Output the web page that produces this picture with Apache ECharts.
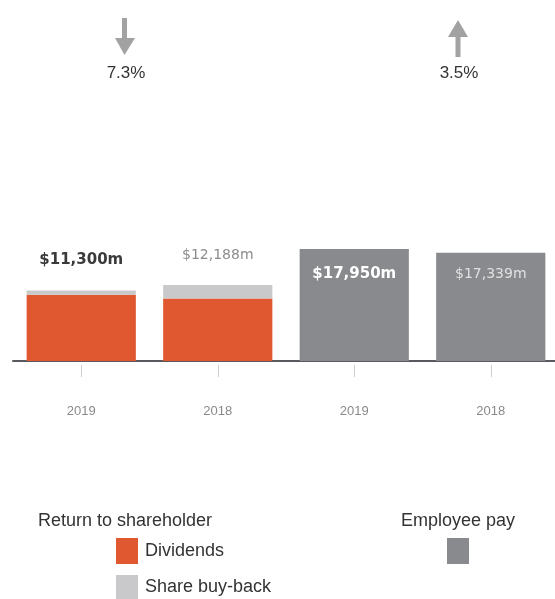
<!DOCTYPE html>
<html>
<head>
<meta charset="utf-8">
<script src="https://cdn.jsdelivr.net/npm/echarts@6/dist/echarts.min.js"></script>
<style>
  html, body { margin: 0; padding: 0; background: #fff; }
  #chart { width: 555px; height: 599px; }
</style>
</head>
<body>
<div id="chart"></div>
<script>
// Categories along the x axis (two shareholder bars, two employee bars)
const categories = ['2019', '2018', '2019 ', '2018 '];

// Return to shareholder, split into its two parts ($m)
const dividends = [10600, 10000, null, null];
const shareBuyBack = [700, 2188, null, null];

// Employee pay ($m)
const employeePay = [null, null, 17950, 17339];

// Year-on-year change shown above each group
const changeLabels = ['7.3%', '3.5%'];

const ORANGE = '#E0582F';
const LIGHT_GREY = '#C9C9CB';
const DARK_GREY = '#898A8E';
const FONT = '"Liberation Sans", Arial, Helvetica, sans-serif';
const VALUE_FONT = '"DejaVu Sans", "Liberation Sans", sans-serif';

function money(v) {
  return '$' + v.toLocaleString('en-US') + 'm';
}

const shareholderTotals = dividends.map((d, i) => (d == null ? null : d + shareBuyBack[i]));

const chart = echarts.init(document.getElementById('chart'), null, { renderer: 'canvas' });

const legendText = { color: '#333', fontSize: 18, fontFamily: FONT, padding: [0, 0, 0, 2] };

chart.setOption({
  animation: false,
  backgroundColor: '#ffffff',
  textStyle: { fontFamily: FONT },
  // the plot runs slightly past the right edge of the canvas
  grid: { left: 13, right: -4, top: 49, bottom: 238, containLabel: false, outerBoundsMode: 'none' },
  xAxis: [
    {
      type: 'category',
      data: categories,
      axisLine: { lineStyle: { color: '#5a5a5e', width: 2 } },
      axisTick: { show: false },
      axisLabel: {
        color: '#8a8a8a',
        fontSize: 13,
        margin: 44,
        fontFamily: FONT,
        formatter: (v) => v.trim()
      }
    },
    {
      type: 'category',
      data: categories,
      position: 'bottom',
      offset: 4,
      axisLine: { show: false },
      axisTick: { show: true, alignWithLabel: true, length: 12, lineStyle: { color: '#cfcfcf', width: 1 } },
      axisLabel: { show: false }
    }
  ],
  yAxis: {
    type: 'value',
    min: 0,
    max: 50000,
    show: false,
    splitLine: { show: false }
  },
  legend: [
    {
      data: ['Dividends'],
      left: 116, top: 538, padding: 0,
      itemWidth: 22, itemHeight: 26,
      icon: 'rect',
      textStyle: legendText,
      selectedMode: false
    },
    {
      data: ['Share buy-back'],
      left: 116, top: 575, padding: 0,
      itemWidth: 22, itemHeight: 24,
      icon: 'rect',
      textStyle: legendText,
      selectedMode: false
    },
    {
      data: ['Employee pay'],
      left: 447, top: 538, padding: 0,
      itemWidth: 22, itemHeight: 26,
      icon: 'rect',
      formatter: () => '',
      selectedMode: false
    }
  ],
  series: [
    {
      name: 'Dividends',
      type: 'bar',
      stack: 'total',
      barCategoryGap: '20%',
      itemStyle: { color: ORANGE },
      data: dividends
    },
    {
      name: 'Share buy-back',
      type: 'bar',
      stack: 'total',
      barCategoryGap: '20%',
      itemStyle: { color: LIGHT_GREY },
      data: shareBuyBack.map((v, i) => ({
        value: v,
        label: {
          show: v != null,
          position: 'top',
          distance: 23,
          formatter: () => money(shareholderTotals[i]),
          fontFamily: VALUE_FONT,
          fontSize: i === 0 ? 15 : 14,
          fontWeight: i === 0 ? 'bold' : 'normal',
          color: i === 0 ? '#3a3a3a' : '#8c8c8c'
        }
      }))
    },
    {
      name: 'Employee pay',
      type: 'bar',
      stack: 'total',
      barCategoryGap: '20%',
      itemStyle: { color: DARK_GREY },
      data: employeePay.map((v, i) => ({
        value: v,
        label: {
          show: v != null,
          position: 'insideTop',
          distance: i === 2 ? 18 : 15,
          formatter: () => money(v),
          fontFamily: VALUE_FONT,
          fontSize: i === 2 ? 15 : 14,
          fontWeight: i === 2 ? 'bold' : 'normal',
          color: i === 2 ? '#ffffff' : '#e0e0e0'
        }
      }))
    }
  ],
  graphic: [
    // down arrow over the shareholder group
    { type: 'rect', shape: { x: 122, y: 18, width: 5, height: 22 }, style: { fill: '#a2a2a2' } },
    { type: 'polygon', shape: { points: [[115, 38], [135, 38], [124.5, 55]] }, style: { fill: '#a2a2a2' } },
    {
      type: 'text', x: 126, y: 73,
      style: { text: changeLabels[0], fill: '#333', fontSize: 17, fontFamily: FONT, align: 'center', verticalAlign: 'middle' }
    },
    // up arrow over the employee group
    { type: 'polygon', shape: { points: [[458, 20], [448, 37], [468, 37]] }, style: { fill: '#a2a2a2' } },
    { type: 'rect', shape: { x: 455.5, y: 35, width: 5, height: 22 }, style: { fill: '#a2a2a2' } },
    {
      type: 'text', x: 459, y: 73,
      style: { text: changeLabels[1], fill: '#333', fontSize: 17, fontFamily: FONT, align: 'center', verticalAlign: 'middle' }
    },
    // legend group headings
    {
      type: 'text', x: 38, y: 521,
      style: { text: 'Return to shareholder', fill: '#333', fontSize: 18, fontFamily: FONT, verticalAlign: 'middle' }
    },
    {
      type: 'text', x: 401, y: 521,
      style: { text: 'Employee pay', fill: '#333', fontSize: 18, fontFamily: FONT, verticalAlign: 'middle' }
    }
  ]
});
</script>
</body>
</html>
